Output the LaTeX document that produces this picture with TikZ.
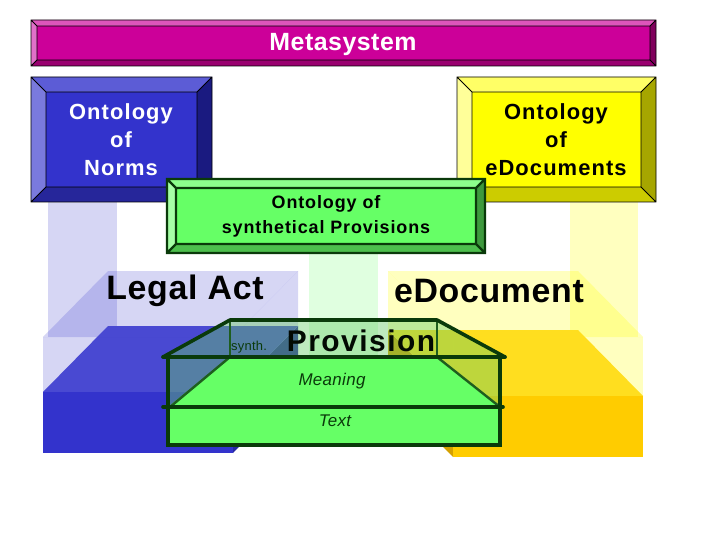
\documentclass[tikz,border=0pt]{standalone}
\usepackage{fontspec}
\setmainfont{Liberation Sans}
\newfontfamily\wfont[LetterSpace=5]{Liberation Sans}
\newfontfamily\tfont[LetterSpace=2]{Liberation Sans}
\definecolor{mgface}{HTML}{CC0099}
\definecolor{mgtop}{HTML}{DD55BB}
\definecolor{mgleft}{HTML}{E070C8}
\definecolor{mgbottom}{HTML}{99006F}
\definecolor{mgright}{HTML}{80005C}
\definecolor{blface}{HTML}{3333CC}
\definecolor{bltop}{HTML}{5C5CD6}
\definecolor{blleft}{HTML}{7A7ADD}
\definecolor{blbottom}{HTML}{26269A}
\definecolor{blright}{HTML}{1A1A80}
\definecolor{yeface}{HTML}{FFFF00}
\definecolor{yetop}{HTML}{FFFF66}
\definecolor{yeleft}{HTML}{FFFF99}
\definecolor{yebottom}{HTML}{CCCC00}
\definecolor{yeright}{HTML}{A6A600}
\definecolor{grface}{HTML}{66FF66}
\definecolor{grtop}{HTML}{8CFF8C}
\definecolor{grleft}{HTML}{A6FFA6}
\definecolor{grbottom}{HTML}{4DBF4D}
\definecolor{grright}{HTML}{3D993D}
\definecolor{dkgreen}{HTML}{0A3A0A}
\definecolor{mdgreen}{HTML}{1E5E1E}
\definecolor{blsolidtop}{HTML}{4F4FD4}
\definecolor{blsolidside}{HTML}{2828A0}
\definecolor{yesolidface}{HTML}{FFCC00}
\definecolor{yesolidtop}{HTML}{FFD42A}
\definecolor{yesolidside}{HTML}{D4A000}
\definecolor{glass}{HTML}{66CC66}
\newcommand\bvbox[7]{%
  \fill[#6top] (#1,#2) -- (#3,#2) -- (#3-#5,#2+#5) -- (#1+#5,#2+#5) -- cycle;
  \fill[#6left] (#1,#2) -- (#1+#5,#2+#5) -- (#1+#5,#4-#5) -- (#1,#4) -- cycle;
  \fill[#6bottom] (#1,#4) -- (#1+#5,#4-#5) -- (#3-#5,#4-#5) -- (#3,#4) -- cycle;
  \fill[#6right] (#3,#2) -- (#3,#4) -- (#3-#5,#4-#5) -- (#3-#5,#2+#5) -- cycle;
  \fill[#6face] (#1+#5,#2+#5) rectangle (#3-#5,#4-#5);
  \draw[#7] (#1,#2) rectangle (#3,#4) (#1+#5,#2+#5) rectangle (#3-#5,#4-#5)
    (#1,#2) -- (#1+#5,#2+#5) (#3,#2) -- (#3-#5,#2+#5)
    (#1,#4) -- (#1+#5,#4-#5) (#3,#4) -- (#3-#5,#4-#5);
}
\tikzset{
  bevelline/.style={black, line width=0.9},
  greenline/.style={draw=dkgreen, line width=2.2},
  ghostblue/.style={fill=blface, fill opacity=0.2},
  ghostyellow/.style={fill=yeface, fill opacity=0.25},
  ghostgreen/.style={fill=grface, fill opacity=0.2},
  glassfill/.style={fill=glass, fill opacity=0.42},
  heavy/.style={draw=dkgreen, line width=3.6, line cap=round},
  medium/.style={draw=mdgreen, line width=2.4},
  label/.style={inner sep=0pt, align=center, font=\wfont}
}
\begin{document}
\begin{tikzpicture}[x=1bp,y=-1bp]
\useasboundingbox (0,0) rectangle (720,540);
\fill[white] (0,0) rectangle (720,540);
% pillars
\fill[ghostblue] (48,201) rectangle (117,337);
\fill[ghostyellow] (570,201) rectangle (638,337);
\fill[ghostgreen] (309,252) rectangle (378,357);
% solid blue box
\fill[blsolidside] (233,392) -- (298,326) -- (298,387) -- (233,453) -- cycle;
\fill[blsolidtop] (43,392) -- (233,392) -- (298,326) -- (108,326) -- cycle;
\fill[blface] (43,392) rectangle (233,453);
% solid yellow box
\fill[yesolidside] (388,330) -- (453,396) -- (453,457) -- (388,391) -- cycle;
\fill[yesolidtop] (453,396) -- (643,396) -- (578,330) -- (388,330) -- cycle;
\fill[yesolidface] (453,396) rectangle (643,457);
% translucent upper blue box
\fill[ghostblue] (43,337) rectangle (233,392);
\fill[ghostblue] (43,337) -- (233,337) -- (298,271) -- (108,271) -- cycle;
\fill[ghostblue] (233,337) -- (298,271) -- (298,326) -- (233,392) -- cycle;
% translucent upper yellow box
\fill[ghostyellow] (453,337) rectangle (643,396);
\fill[ghostyellow] (453,337) -- (643,337) -- (578,271) -- (388,271) -- cycle;
\fill[ghostyellow] (388,271) -- (453,337) -- (453,396) -- (388,330) -- cycle;
% top boxes
\bvbox{31}{20}{656}{66}{6}{mg}{bevelline}
\node[label, text=white, font=\tfont\bfseries\fontsize{25}{30}\selectfont] (meta) at (343,45) {Metasystem};
\bvbox{31}{77}{212}{202}{15}{bl}{bevelline}
\node[label, text=white, font=\wfont\bfseries\fontsize{22}{28}\selectfont] (norms) at (121,140) {Ontology\\of\\Norms};
\bvbox{457}{77}{656}{202}{15}{ye}{bevelline}
\node[label, text=black, font=\wfont\bfseries\fontsize{22}{28}\selectfont] (edocs) at (556,140) {Ontology\\of\\eDocuments};
\bvbox{167}{179}{485}{253}{9}{gr}{greenline}
\node[label, text=black, font=\wfont\bfseries\fontsize{18}{25}\selectfont] (synth) at (326,216) {Ontology of\\synthetical Provisions};
% big labels
\node[label, font=\tfont\bfseries\fontsize{34}{36}\selectfont] (legal) at (185,291) {Legal Act};
\node[label, font=\tfont\bfseries\fontsize{34}{36}\selectfont] (edoc) at (489,291) {eDocument};
% provision structure
\fill[grface] (168,407) rectangle (500,445);
\fill[grface] (230,357) -- (437,357) -- (500,407) -- (168,407) -- cycle;
\fill[glassfill] (168,357) -- (230,357) -- (168,407) -- cycle;
\fill[glassfill] (437,357) -- (500,357) -- (500,407) -- cycle;
\fill[glassfill] (230,320) rectangle (437,357);
\fill[glassfill] (163,357) -- (230,320) -- (230,357) -- cycle;
\fill[glassfill] (437,320) -- (505,357) -- (437,357) -- cycle;
\node[label, anchor=base west, text=dkgreen, font=\tfont\fontsize{13}{15}\selectfont] (synthw) at (231,350) {synth.};
\node[label, anchor=base, text=black!85!dkgreen, font=\wfont\bfseries\fontsize{30}{32}\selectfont] (prov) at (361,351) {Provision};
\node[label, text=dkgreen, font=\tfont\itshape\fontsize{17}{20}\selectfont] (mean) at (332,381) {Meaning};
\node[label, text=dkgreen, font=\tfont\itshape\fontsize{17}{20}\selectfont] (text) at (335,421) {Text};
\draw[medium] (230,320) -- (230,357) (437,320) -- (437,357);
\draw[medium] (230,357) -- (170,407) (437,357) -- (500,407);
\draw[heavy, line join=round] (163,357) -- (230,320) -- (437,320) -- (505,357);
\draw[heavy] (163,357) -- (505,357);
\draw[heavy] (168,357) -- (168,407) (500,357) -- (500,407);
\draw[heavy] (163,407) -- (503,407);
\draw[heavy] (168,407) rectangle (500,445);
\end{tikzpicture}
\end{document}
